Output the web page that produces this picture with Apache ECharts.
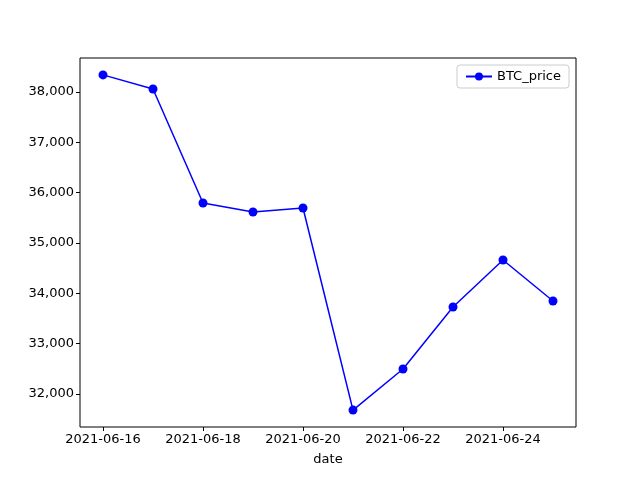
<!DOCTYPE html>
<html>
<head>
<meta charset="utf-8">
<script src="https://cdn.jsdelivr.net/npm/echarts@6/dist/echarts.min.js"></script>
<style>html,body{margin:0;padding:0;background:#fff}#c{width:640px;height:480px}</style>
</head>
<body>
<div id="c"></div>
<script>
const dates = ['2021-06-16', '2021-06-17', '2021-06-18', '2021-06-19', '2021-06-20',
               '2021-06-21', '2021-06-22', '2021-06-23', '2021-06-24', '2021-06-25'];
const btcPrice = [38340, 38060, 35795, 35615, 35695, 31680, 32496, 33728, 34662, 33847];

const chart = echarts.init(document.getElementById('c'));
const font = 'DejaVu Sans';

// grid 0 holds data (first/last date and 32000/38000 at its edges), grid 1 is the frame
chart.setOption({
    animation: false,
    textStyle: { fontFamily: font },
    legend: {
        right: 71, top: 65,
        itemWidth: 26, itemHeight: 10,
        borderColor: '#cccccc', borderWidth: 1, borderRadius: 3,
        padding: [5, 8],
        textStyle: { fontSize: 13, color: '#000', fontFamily: font },
        data: ['BTC_price']
    },
    grid: [
        { left: 103, right: 87, top: 92, bottom: 86 },
        { left: 80, right: 64, top: 58, bottom: 53, show: true, borderColor: '#000', borderWidth: 1, backgroundColor: 'transparent' }
    ],
    xAxis: [
        {
            type: 'category', gridIndex: 0, data: dates, boundaryGap: false,
            offset: 33,
            name: 'date', nameLocation: 'middle', nameGap: 26,
            nameTextStyle: { fontSize: 13, color: '#000' },
            axisLine: { show: false },
            axisTick: { interval: 1, length: 4, lineStyle: { color: '#000' } },
            axisLabel: { interval: 1, fontSize: 13, color: '#000', margin: 6 },
            splitLine: { show: false }
        },
        { type: 'value', gridIndex: 1, show: false }
    ],
    yAxis: [
        {
            type: 'value', gridIndex: 0, min: 32000, max: 38000, interval: 1000,
            offset: 23,
            axisLine: { show: false },
            axisTick: { show: true, length: 4, lineStyle: { color: '#000' } },
            axisLabel: { fontSize: 13, color: '#000', margin: 6 },
            splitLine: { show: false }
        },
        { type: 'value', gridIndex: 1, show: false }
    ],
    series: [{
        name: 'BTC_price', type: 'line', data: btcPrice,
        xAxisIndex: 0, yAxisIndex: 0, clip: false,
        symbol: 'circle', symbolSize: 9,
        itemStyle: { color: '#0000ff' },
        lineStyle: { color: '#0000ff', width: 1.5 }
    }]
});
</script>
</body>
</html>
